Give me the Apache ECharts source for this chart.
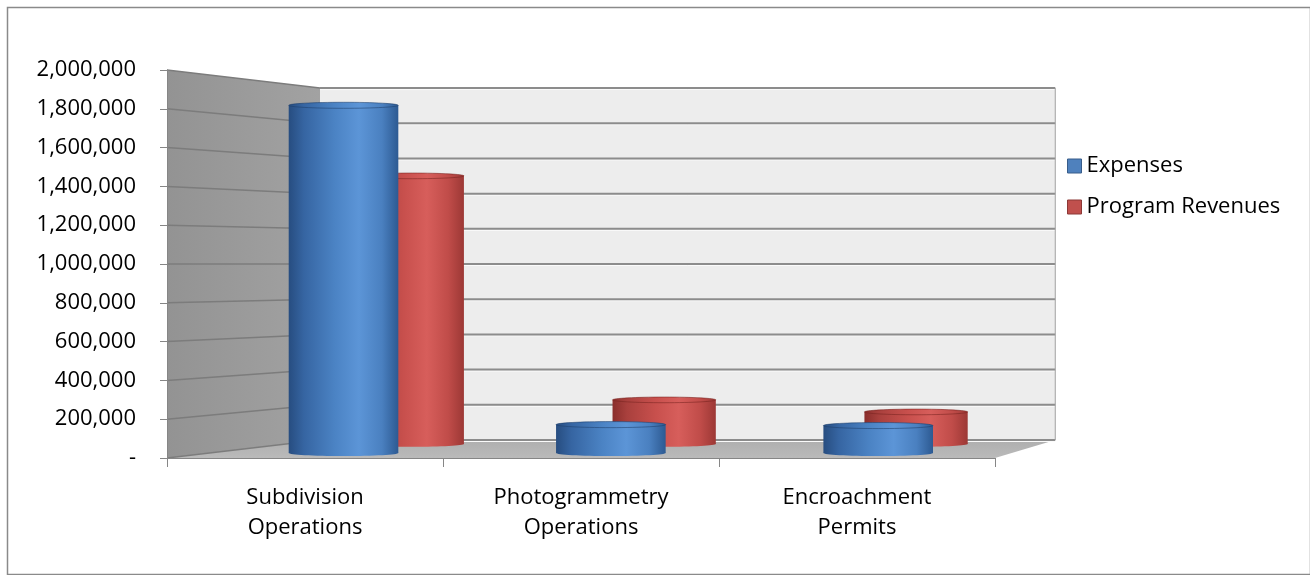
<!DOCTYPE html>
<html>
<head>
<meta charset="utf-8">
<script src="https://cdn.jsdelivr.net/npm/echarts@6/dist/echarts.min.js"></script>
<style>
html,body{margin:0;padding:0;background:#fff;}
#chart{width:1310px;height:575px;}
</style>
</head>
<body>
<div id="chart"></div>
<script>
// ---------- data ----------
const categories = ['Subdivision\nOperations', 'Photogrammetry\nOperations', 'Encroachment\nPermits'];
const seriesNames = ['Expenses', 'Program Revenues'];
const expenses = [1840000, 150000, 145000];
const programRevenues = [1490000, 245000, 178000];
const yTicks = [0, 200000, 400000, 600000, 800000, 1000000, 1200000, 1400000, 1600000, 1800000, 2000000];

// ---------- style ----------
const FONT = '"Open Sans", "Noto Sans", sans-serif';
const DEPTH_DX = 153;   // left-edge shift at full depth (px)
const DEPTH_DY = -18;   // bottom-edge shift at full depth (px)
const SCALE_X = 0.888;  // horizontal scale of the back plane
const SCALE_Y = 0.907;  // vertical scale of the back plane
const RADIUS_FRAC = 0.205;
const ELLIPSE_FRAC = 0.055;
const DEPTH = { 'Expenses': 0.28, 'Program Revenues': 0.78 };

const PALETTE = {
  'Expenses': { stops: ['#274d80', '#3665a2', '#4b83c4', '#5c95d7', '#4a80c0', '#2d5a92'], edge: 'rgba(30,62,106,0.55)', legend: '#4f81bd', legendBorder: '#385d8a' },
  'Program Revenues': { stops: ['#8a2e2c', '#a9403d', '#c8504d', '#d75e5b', '#c04c49', '#9c3835'], edge: 'rgba(118,34,31,0.55)', legend: '#c0504d', legendBorder: '#8c3836' }
};

function makeProj(cs) {
  const x0 = cs.x, yb = cs.y + cs.height;
  const vx = x0 + DEPTH_DX / (1 - SCALE_X);
  const vy = yb + DEPTH_DY / (1 - SCALE_Y);
  return function (px, py, t) {
    const sx = 1 - t * (1 - SCALE_X), sy = 1 - t * (1 - SCALE_Y);
    return [vx + sx * (px - vx), vy + sy * (py - vy)];
  };
}

function fmt(v) {
  if (v === 0) return '-';
  return String(v).replace(/\B(?=(\d{3})+(?!\d))/g, ',');
}

function renderWalls(params, api) {
  const cs = params.coordSys;
  const P = makeProj(cs);
  const xl = cs.x, xr = cs.x + cs.width;
  const y0 = api.coord([0, yTicks[0]])[1];
  const yT = api.coord([0, yTicks[yTicks.length - 1]])[1];
  const fl = [xl, y0], fr = [xr, y0], ftl = [xl, yT];
  const bl = P(xl, y0, 1), br = P(xr, y0, 1), btl = P(xl, yT, 1), btr = P(xr, yT, 1);
  const children = [];
  children.push({ type: 'polygon', shape: { points: [ftl, btl, bl, fl] },
    style: { fill: new echarts.graphic.LinearGradient(0, 0, 1, 0, [{ offset: 0, color: '#939393' }, { offset: 1, color: '#a2a2a2' }]) } });
  children.push({ type: 'polygon', shape: { points: [btl, btr, br, bl] }, style: { fill: '#ededed' } });
  children.push({ type: 'polygon', shape: { points: [fl, bl, br, fr] },
    style: { fill: new echarts.graphic.LinearGradient(0, 0, 0, 1, [{ offset: 0, color: '#afafaf' }, { offset: 1, color: '#bababa' }]) } });
  yTicks.forEach(function (v) {
    const yf = api.coord([0, v])[1];
    const a = [xl, yf], b = P(xl, yf, 1), c = P(xr, yf, 1);
    children.push({ type: 'line', shape: { x1: a[0], y1: a[1], x2: b[0], y2: b[1] }, style: { stroke: '#7c7c7c', lineWidth: 1.5 } });
    children.push({ type: 'line', shape: { x1: b[0], y1: b[1] + 1.5, x2: c[0], y2: c[1] + 1.5 }, style: { stroke: '#fbfbfb', lineWidth: 1 } });
    children.push({ type: 'line', shape: { x1: b[0], y1: b[1], x2: c[0], y2: c[1] }, style: { stroke: '#8c8c8c', lineWidth: 2 } });
  });
  children.push({ type: 'line', shape: { x1: btr[0], y1: btr[1], x2: br[0], y2: br[1] }, style: { stroke: '#a0a0a0', lineWidth: 1 } });
  return { type: 'group', children: children };
}

function makeCylinder(name) {
  const t = DEPTH[name];
  const pal = PALETTE[name];
  return function (params, api) {
    const cs = params.coordSys;
    const P = makeProj(cs);
    const i = api.value(0), v = api.value(1);
    const b = api.coord([i, 0]), tp = api.coord([i, v]);
    const sx = 1 - t * (1 - SCALE_X);
    const r = api.size([1, 0])[0] * RADIUS_FRAC * sx;
    const pb = P(b[0], b[1], t), pt = P(tp[0], tp[1], t);
    const ry = r * ELLIPSE_FRAC;
    const cx = pb[0];
    const offs = [0, 0.14, 0.42, 0.64, 0.85, 1];
    const mk = function () {
      return new echarts.graphic.LinearGradient(0, 0, 1, 0, pal.stops.map(function (c, k) { return { offset: offs[k], color: c }; }));
    };
    return {
      type: 'group',
      children: [
        { type: 'ellipse', shape: { cx: cx, cy: pb[1], rx: r, ry: ry }, style: { fill: mk() } },
        { type: 'rect', shape: { x: cx - r, y: pt[1], width: 2 * r, height: pb[1] - pt[1] }, style: { fill: mk() } },
        { type: 'ellipse', shape: { cx: cx, cy: pt[1], rx: r, ry: ry }, style: { fill: mk(), stroke: pal.edge, lineWidth: 1 } }
      ]
    };
  };
}

const chart = echarts.init(document.getElementById('chart'), null, { renderer: 'canvas' });
const option = {
  animation: false,
  backgroundColor: '#ffffff',
  textStyle: { fontFamily: FONT },
  graphic: [{
    type: 'rect', left: 5, top: 5, silent: true, z: 0,
    shape: { width: 1303, height: 567 },
    style: { fill: 'none', stroke: '#8a8a8a', lineWidth: 1.5 }
  }],
  legend: {
    orient: 'vertical', left: 1062, top: 150,
    itemWidth: 14, itemHeight: 14, itemGap: 19, icon: 'rect',
    textStyle: { fontSize: 22, color: '#000', fontFamily: FONT },
    data: seriesNames.map(function (n) {
      return { name: n, itemStyle: { color: PALETTE[n].legend, borderColor: PALETTE[n].legendBorder, borderWidth: 1 } };
    })
  },
  grid: { left: 167, top: 70, width: 828, height: 388, containLabel: false },
  xAxis: {
    type: 'category', data: categories, boundaryGap: true, z: 5,
    axisLine: { show: true, lineStyle: { color: '#868686', width: 1 } },
    axisTick: { show: true, length: 9, lineStyle: { color: '#868686' } },
    axisLabel: { interval: 0, fontSize: 22, lineHeight: 30, color: '#000', margin: 25, fontFamily: FONT },
    splitLine: { show: false }
  },
  yAxis: {
    type: 'value', min: yTicks[0], max: yTicks[yTicks.length - 1], interval: yTicks[1] - yTicks[0], z: 5,
    axisLine: { show: true, lineStyle: { color: '#868686', width: 1 } },
    axisTick: { show: true, length: 7, lineStyle: { color: '#868686' } },
    axisLabel: { fontSize: 22, color: '#000', margin: 31, formatter: fmt, fontFamily: FONT },
    splitLine: { show: false }
  },
  series: [
    { type: 'custom', name: '_walls', silent: true, z: 1, renderItem: renderWalls, data: [[0, 0]], clip: false, legendHoverLink: false },
    { type: 'custom', name: seriesNames[1], z: 2, renderItem: makeCylinder(seriesNames[1]), itemStyle: { color: PALETTE[seriesNames[1]].legend },
      data: programRevenues.map(function (v, i) { return [i, v]; }), clip: false },
    { type: 'custom', name: seriesNames[0], z: 3, renderItem: makeCylinder(seriesNames[0]), itemStyle: { color: PALETTE[seriesNames[0]].legend },
      data: expenses.map(function (v, i) { return [i, v]; }), clip: false }
  ]
};
chart.setOption(option);
</script>
</body>
</html>
